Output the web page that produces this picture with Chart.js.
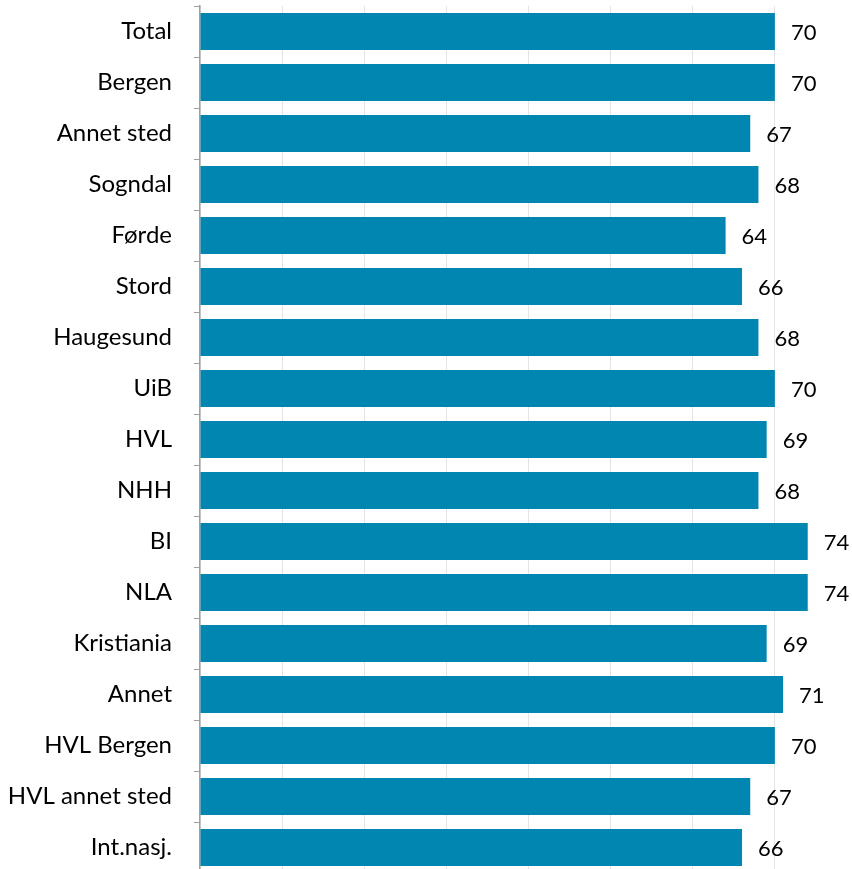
<!DOCTYPE html>
<html>
<head>
<meta charset="utf-8">
<script src="https://cdn.jsdelivr.net/npm/chart.js@4"></script>
<style>
    html, body { margin: 0; padding: 0; overflow: hidden; background: #fff; }
    #wrap { width: 860px; height: 876px; }
</style>
</head>
<body>
<div id="wrap"><canvas id="chart" width="860" height="876"></canvas></div>
<script>
    const categories = ['Total', 'Bergen', 'Annet sted', 'Sogndal', 'Førde', 'Stord', 'Haugesund', 'UiB', 'HVL', 'NHH', 'BI', 'NLA', 'Kristiania', 'Annet', 'HVL Bergen', 'HVL annet sted', 'Int.nasj.'];
    const values = [70, 70, 67, 68, 64, 66, 68, 70, 69, 68, 74, 74, 69, 71, 70, 67, 66];
    const barColor = '#0086b1';
    const fontFamily = 'Lato, "Open Sans", sans-serif';

    // value labels to the right of each bar
    const valueLabels = {
        id: 'value-labels',
        afterDatasetsDraw(chart) {
            const { ctx } = chart;
            const meta = chart.getDatasetMeta(0);
            ctx.save();
            ctx.font = '22px ' + fontFamily;
            ctx.fillStyle = '#000';
            ctx.textAlign = 'left';
            ctx.textBaseline = 'middle';
            meta.data.forEach((bar, i) => {
                ctx.fillText(values[i], bar.x + 16, bar.y + 1);
            });
            ctx.restore();
        },
    };

    const ctx = document.getElementById('chart').getContext('2d');
    new Chart(ctx, {
        type: 'bar',
        data: {
            labels: categories,
            datasets: [
                {
                    data: values,
                    backgroundColor: barColor,
                    borderWidth: 0,
                    categoryPercentage: 1,
                    barPercentage: 0.73,
                },
            ],
        },
        options: {
            indexAxis: 'y',
            responsive: false,
            animation: false,
            layout: {
                padding: { top: 6, bottom: 3, left: 0, right: 3 },
            },
            plugins: {
                legend: { display: false },
                tooltip: { enabled: false },
            },
            scales: {
                x: {
                    min: 0,
                    max: 80,
                    afterFit(scale) {
                        scale.height = 0;
                        scale.paddingLeft = 0;
                        scale.paddingRight = 0;
                    },
                    ticks: { display: false, stepSize: 10 },
                    grid: { color: '#e4e4e4', lineWidth: 1, drawTicks: false },
                    border: { display: false },
                },
                y: {
                    afterFit(scale) {
                        scale.width = 200;
                        scale.paddingTop = 0;
                        scale.paddingBottom = 0;
                    },
                    ticks: {
                        color: '#000',
                        font: { family: fontFamily, size: 24 },
                        padding: 22,
                    },
                    grid: {
                        offset: true,
                        drawOnChartArea: false,
                        tickLength: 6,
                        color: '#a0a0a0',
                    },
                    border: { color: '#a0a0a0', width: 1.5 },
                },
            },
        },
        plugins: [valueLabels],
    });
</script>
</body>
</html>
